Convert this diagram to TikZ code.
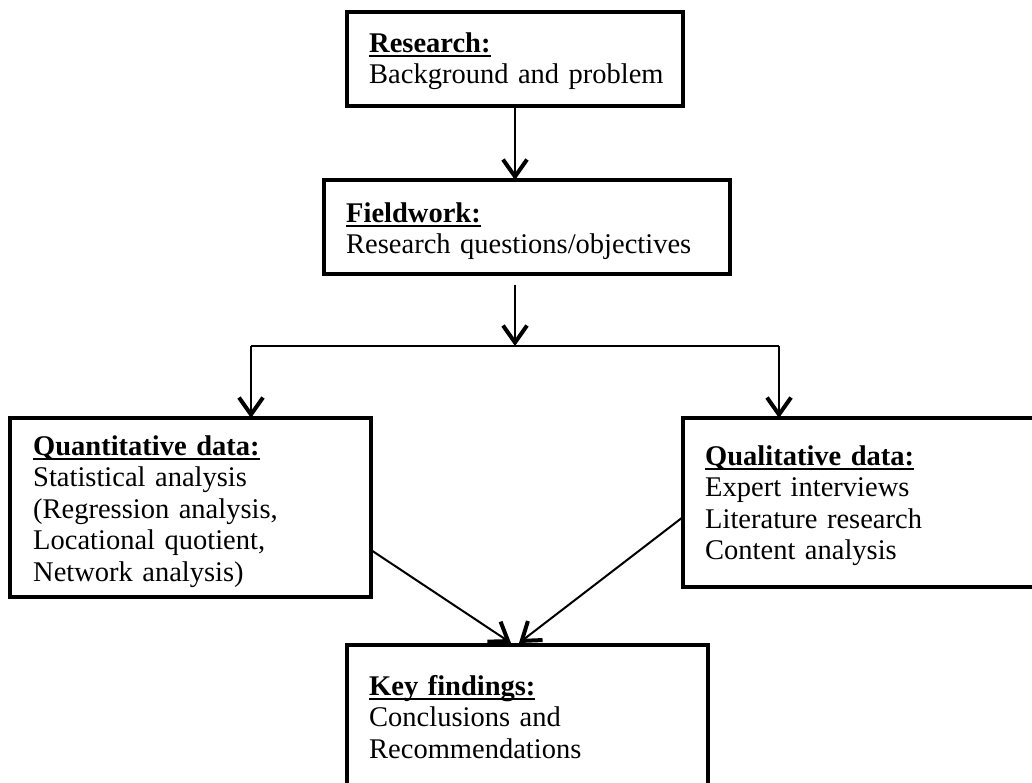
\documentclass[tikz,border=0pt]{standalone}
\usepackage{fontspec}
\setmainfont{Liberation Serif}
\usetikzlibrary{arrows.meta}
% bold heading with a rule under it
\newcommand\boxhead[1]{\setbox0\hbox{\bfseries #1}\rlap{\rule[-5pt]{\wd0}{1.6pt}}\box0}
\begin{document}
\begin{tikzpicture}[x=1pt,y=-1pt,
  box/.style={draw, line width=4.5pt, rectangle, inner sep=0pt, outer sep=0pt, anchor=north west},
  txt/.style={anchor=base west, inner sep=0pt, text width=340pt, align=left,
    font=\fontsize{28.5}{31.5}\selectfont},
  arr/.style={line width=2pt, -{Straight Barb[length=17pt,width=24pt,line width=4pt]}},
  link/.style={line width=2pt}]
\clip (0,0) rectangle (1032,782);
\fill[white] (0,0) rectangle (1032,782);

% boxes
\node[box, minimum width=336pt, minimum height=94pt]  (research) at (347,12) {};
\node[box, minimum width=406pt, minimum height=94pt]  (field)    at (324,180) {};
\node[box, minimum width=361pt, minimum height=179pt] (quant)    at (10,418) {};
\node[box, minimum width=377pt, minimum height=169pt] (qual)     at (683,418) {};
\node[box, minimum width=361pt, minimum height=175pt] (key)      at (347,645) {};

% texts
\node[txt] (tresearch) at (369,52)  {\boxhead{Research:}\\Background and problem};
\node[txt, text width=400pt] (tfield) at (346,222) {\boxhead{Fieldwork:}\\Research questions/objectives};
\node[txt] (tquant) at (33,455) {\boxhead{Quantitative data:}\\Statistical analysis\\(Regression analysis,\\Locational quotient,\\Network analysis)};
\node[txt] (tqual) at (705,465) {\boxhead{Qualitative data:}\\Expert interviews\\Literature research\\Content analysis};
\node[txt] (tkey) at (369,695) {\boxhead{Key findings:}\\Conclusions and\\Recommendations};

% connectors
\coordinate (split) at (515,285);
\coordinate (jL) at (251,346);
\coordinate (jR) at (779,346);
\coordinate (kL) at (511,643);
\coordinate (kR) at (519,643);

\draw[arr] (research.south) -- (research.south |- field.north);
\draw[arr] (split) -- (split |- jL);
\draw[link] (jL) -- (jR);
\draw[arr] (jL) -- (jL |- quant.north);
\draw[arr] (jR) -- (jR |- qual.north);
\draw[arr] (quant.east |- 0,550) -- (kL);
\draw[arr] (qual.west |- 0,517) -- (kR);
\end{tikzpicture}
\end{document}
